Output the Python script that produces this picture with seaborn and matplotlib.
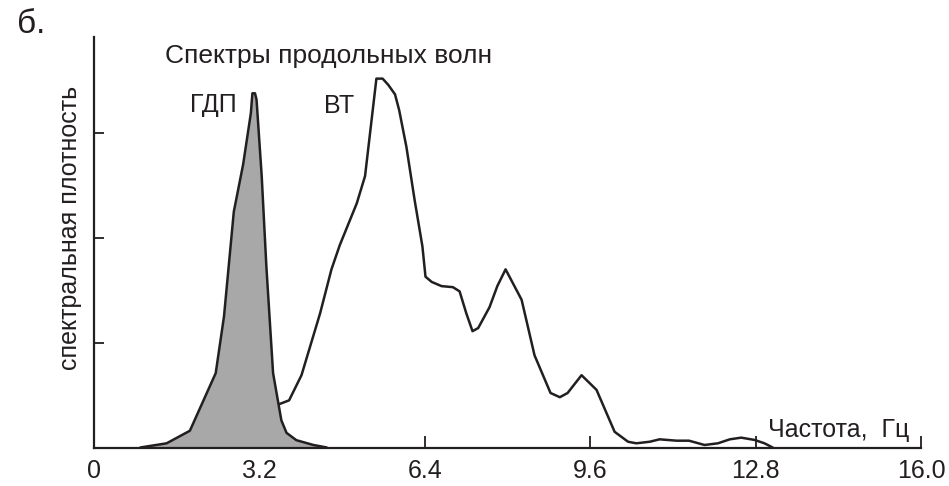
import matplotlib
matplotlib.use("Agg")
import matplotlib.pyplot as plt
import seaborn as sns
import pandas as pd

# Spectrum of the ГДП source (filled)
gdp_freq = [0.89, 1.40, 1.85, 2.35, 2.51, 2.70, 2.88, 3.03, 3.06, 3.11, 3.14,
            3.24, 3.33, 3.46, 3.62, 3.72, 3.91, 4.24, 4.50]
gdp_amp = [0.00, 0.04, 0.16, 0.71, 1.25, 2.25, 2.70, 3.19, 3.38, 3.38, 3.32,
           2.59, 1.73, 0.71, 0.26, 0.14, 0.07, 0.024, 0.00]

# Spectrum of the ВТ source (outline)
vt_freq = [3.56, 3.77, 4.01, 4.37, 4.59, 4.75, 5.08, 5.24, 5.46, 5.58, 5.69,
           5.82, 5.90, 6.04, 6.20, 6.35, 6.41, 6.53, 6.72, 6.94, 7.07, 7.20,
           7.32, 7.43, 7.65, 7.80, 7.96, 8.27, 8.52, 8.83, 9.01, 9.16, 9.43,
           9.72, 10.07, 10.33, 10.49, 10.75, 10.94, 11.27, 11.51, 11.81,
           12.07, 12.30, 12.52, 12.78, 12.97, 13.13]
vt_amp = [0.41, 0.45, 0.69, 1.28, 1.70, 1.93, 2.33, 2.59, 3.52, 3.52, 3.46,
          3.37, 3.22, 2.87, 2.36, 1.92, 1.63, 1.58, 1.54, 1.53, 1.49, 1.28,
          1.11, 1.14, 1.34, 1.54, 1.70, 1.41, 0.88, 0.52, 0.48, 0.52, 0.69,
          0.55, 0.15, 0.055, 0.04, 0.055, 0.078, 0.065, 0.065, 0.024,
          0.04, 0.078, 0.094, 0.072, 0.04, 0.00]

x_ticks = [0, 3.2, 6.4, 9.6, 12.8, 16.0]
x_tick_labels = ["0", "3.2", "6.4", "9.6", "12.8", "16.0"]
y_ticks = [1, 2, 3]

title_text = "Спектры продольных волн"
y_label = "спектральная плотность"
x_label = "Частота,  Гц"
panel_label = "б."
gdp_label = "ГДП"
vt_label = "ВТ"

sns.set_style("ticks")
plt.rcParams["font.family"] = ["Liberation Sans", "DejaVu Sans"]

ink = "#231f20"
fill_grey = "#a8a8a8"
lw = 1.8
fs = 18

fig = plt.figure(figsize=(9.49, 4.86), dpi=100)
W, H = 949, 486
ax = fig.add_axes([94.3 / W, 1 - 447.5 / H, (921 - 94.3) / W, (447.5 - 36.7) / H])

vt = pd.DataFrame({"f": vt_freq, "a": vt_amp})
gdp = pd.DataFrame({"f": gdp_freq, "a": gdp_amp})

sns.lineplot(data=vt, x="f", y="a", ax=ax, color=ink, lw=lw, sort=False,
             estimator=None, zorder=2)
ax.fill_between(gdp["f"], gdp["a"], 0, color=fill_grey, lw=0, zorder=3)
sns.lineplot(data=gdp, x="f", y="a", ax=ax, color=ink, lw=lw, sort=False,
             estimator=None, zorder=4)

ax.set_xlim(0, 16)
ax.set_ylim(0, 3.92)
ax.set_xticks(x_ticks)
ax.set_xticklabels(x_tick_labels)
ax.set_yticks(y_ticks)
ax.set_yticklabels([])
ax.tick_params(axis="x", direction="in", length=8.5, width=1.3, color=ink,
               labelsize=fs, labelcolor=ink, pad=8)
ax.tick_params(axis="y", direction="in", length=7.5, width=1.3, color=ink)
ax.set_xlabel("")
ax.set_ylabel("")

sns.despine(ax=ax, top=True, right=True)
for side in ("left", "bottom"):
    ax.spines[side].set_color(ink)
    ax.spines[side].set_linewidth(1.6)
    ax.spines[side].set_zorder(5)

ax.text(4.53, 3.672, title_text, ha="center", va="baseline", fontsize=19, color=ink)
ax.text(2.31, 3.20, gdp_label, ha="center", va="baseline", fontsize=fs, color=ink)
ax.text(4.74, 3.19, vt_label, ha="center", va="baseline", fontsize=fs, color=ink)
ax.text(13.03, 0.10, x_label, ha="left", va="baseline", fontsize=fs, color=ink)

fig.text(70.5 / W, 1 - 228 / H, y_label, rotation=90, ha="center", va="center",
         fontsize=fs, color=ink)
fig.text(17 / W, 1 - 33 / H, panel_label, ha="left", va="baseline",
         fontsize=24, color=ink)

fig.savefig("out.png", dpi=100)
